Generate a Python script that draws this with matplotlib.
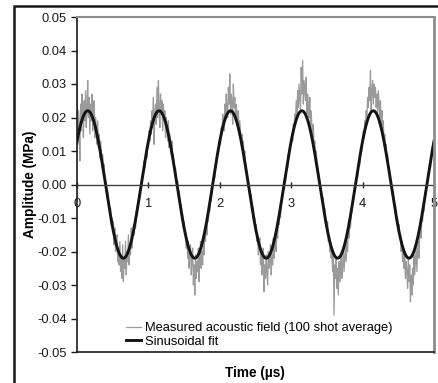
import numpy as np
import matplotlib.pyplot as plt
from matplotlib.patches import Rectangle

plt.rcParams['font.family'] = ['Liberation Sans', 'DejaVu Sans']

# measured acoustic field, one sample every 0.01 us, values in 1e-3 MPa
measured_k = [
    # 0 - 1 us
    30, 12, 22, 18, 7, 24, 16, 27, 21, 14,
    25, 19, 28, 17, 23, 31, 20, 26, 15, 24,
    19, 27, 16, 22, 25, 14, 20, 17, 12, 19,
    11, 15, 8, 13, 10, 5, 9, 4, 6, 2,
    1, 0, -3, -2, -6, -5, -9, -7, -12, -10,
    -14, -11, -18, -13, -20, -16, -15, -23, -19, -24,
    -17, -26, -21, -28, -18, -29, -22, -25, -17, -27,
    -20, -23, -15, -24, -18, -21, -13, -19, -16, -12,
    -15, -10, -13, -8, -9, -5, -7, -3, -4, -1,
    1, 0, 4, 3, 7, 5, 9, 10, 8, 13,
    # 1 - 2 us
    11, 16, 13, 19, 15, 22, 17, 26, 12, 21,
    24, 18, 29, 20, 31, 23, 17, 27, 21, 25,
    16, 24, 19, 22, 14, 20, 17, 13, 19, 11,
    15, 12, 9, 13, 7, 9, 6, 4, 5, 2,
    0, 1, -3, -2, -5, -7, -6, -10, -9, -13,
    -11, -15, -14, -19, -16, -22, -17, -25, -20, -18,
    -27, -22, -19, -30, -24, -33, -21, -28, -23, -26,
    -19, -29, -22, -17, -25, -20, -24, -16, -21, -14,
    -17, -12, -15, -9, -11, -7, -8, -4, -5, -2,
    0, 1, 3, 2, 6, 5, 8, 10, 9, 12,
    # 2 - 3 us
    14, 12, 17, 15, 21, 18, 16, 24, 19, 27,
    22, 20, 29, 24, 33, 21, 27, 25, 18, 30,
    23, 26, 19, 24, 21, 17, 22, 15, 19, 16,
    12, 15, 10, 13, 8, 10, 6, 5, 3, 2,
    1, -1, -2, -4, -3, -6, -8, -7, -11, -10,
    -14, -12, -17, -15, -21, -18, -16, -24, -20, -27,
    -22, -19, -32, -24, -28, -21, -26, -30, -20, -25,
    -23, -18, -27, -21, -24, -16, -22, -19, -15, -20,
    -13, -16, -11, -12, -8, -10, -6, -5, -3, -2,
    0, 2, 1, 4, 6, 5, 9, 8, 11, 12,
    # 3 - 4 us
    12, 15, 13, 18, 16, 21, 19, 25, 20, 28,
    23, 30, 26, 22, 35, 27, 37, 24, 31, 28,
    25, 32, 21, 27, 24, 20, 26, 18, 22, 17,
    14, 18, 11, 13, 9, 10, 7, 5, 4, 2,
    1, -1, -2, -4, -5, -4, -8, -7, -10, -12,
    -13, -11, -17, -15, -20, -17, -22, -19, -26, -21,
    -39, -24, -28, -22, -31, -25, -33, -23, -29, -26,
    -21, -28, -24, -19, -26, -22, -18, -23, -17, -20,
    -14, -16, -11, -13, -9, -8, -6, -5, -3, -2,
    0, 1, 3, 2, 5, 7, 6, 9, 11, 10,
    # 4 - 5 us
    13, 16, 14, 19, 17, 22, 20, 26, 23, 29,
    25, 34, 22, 28, 31, 24, 30, 26, 29, 23,
    27, 21, 28, 24, 20, 25, 18, 22, 16, 19,
    13, 15, 11, 12, 8, 9, 6, 5, 3, 1,
    0, -1, -3, -2, -5, -7, -6, -9, -11, -10,
    -14, -12, -16, -15, -20, -17, -23, -19, -25, -21,
    -28, -23, -26, -31, -22, -29, -24, -35, -27, -33,
    -25, -30, -21, -27, -23, -19, -26, -20, -17, -22,
    -15, -13, -16, -10, -11, -7, -8, -5, -3, -2,
    0, 1, 3, 4, 6, 5, 8, 10, 9, 12,
    13,
]
t_step = 0.01  # us

# sinusoidal fit parameters
fit_amp = 0.022    # MPa
fit_freq = 1.0     # MHz
fit_phase = 0.63   # rad

t_meas = np.arange(len(measured_k)) * t_step
p_meas = np.array(measured_k) * 1e-3

t_fit = np.linspace(0, 5, 1000)
p_fit = fit_amp * np.sin(2 * np.pi * fit_freq * t_fit + fit_phase)

fig = plt.figure(figsize=(4.38, 3.83), dpi=100)
ax = fig.add_axes([77/438, 1-352/383, (434-77)/438, (352-17)/383])

ax.plot(t_meas, p_meas, color='#9a9a9a', lw=0.9, label='Measured acoustic field (100 shot average)')
ax.plot(t_fit, p_fit, color='#141414', lw=2.1, label='Sinusoidal fit')

ax.set_xlim(0, 5)
ax.set_ylim(-0.05, 0.05)
yt = np.arange(-0.05, 0.051, 0.01)
ax.set_yticks(yt)
ax.set_yticklabels(['%.2f' % v for v in yt])
ax.set_xticks(range(6))

ax.spines['bottom'].set_position(('data', 0))
ax.spines['bottom'].set_color('#404040')
ax.spines['bottom'].set_linewidth(1.0)
ax.spines['left'].set_color('#1a1a1a')
ax.spines['left'].set_linewidth(1.2)
ax.spines['top'].set_visible(False)
ax.spines['right'].set_visible(False)

# plot area border
ax.plot([0, 5], [0.05, 0.05], color='#8c8c8c', lw=1.5, clip_on=False, zorder=5)
ax.plot([5, 5], [-0.05, 0.05], color='#8c8c8c', lw=2.0, clip_on=False, zorder=5)
ax.plot([0, 5], [-0.05, -0.05], color='#1a1a1a', lw=1.2, clip_on=False, zorder=5)

ax.tick_params(axis='y', direction='out', length=4, width=1, pad=3.5, labelsize=9.3, colors='#1a1a1a')
ax.tick_params(axis='x', direction='inout', length=5, width=1, pad=7, labelsize=9.3, colors='#1a1a1a')

fig.text(30/438, 1-184/383, 'Amplitude (MPa)', fontsize=9.8, fontweight='bold',
         rotation=90, ha='center', va='center')
fig.text(255/438, 1-373/383, 'Time (\u00b5s)', fontsize=9.8, fontweight='bold', ha='center', va='center')

ax.legend(loc='upper left', bbox_to_anchor=(126/438, 1-322/383), bbox_transform=fig.transFigure,
          frameon=False, fontsize=9.3, borderpad=0, handlelength=1.15, handletextpad=0.3,
          labelspacing=0.12, borderaxespad=0)

# outer chart border
fig.patches.append(Rectangle((14/438, -0.05), 1.0, 1-6/383+0.05, transform=fig.transFigure,
                             fill=False, edgecolor='#1a1a1a', lw=1.8))

fig.savefig('out.png', dpi=100)
